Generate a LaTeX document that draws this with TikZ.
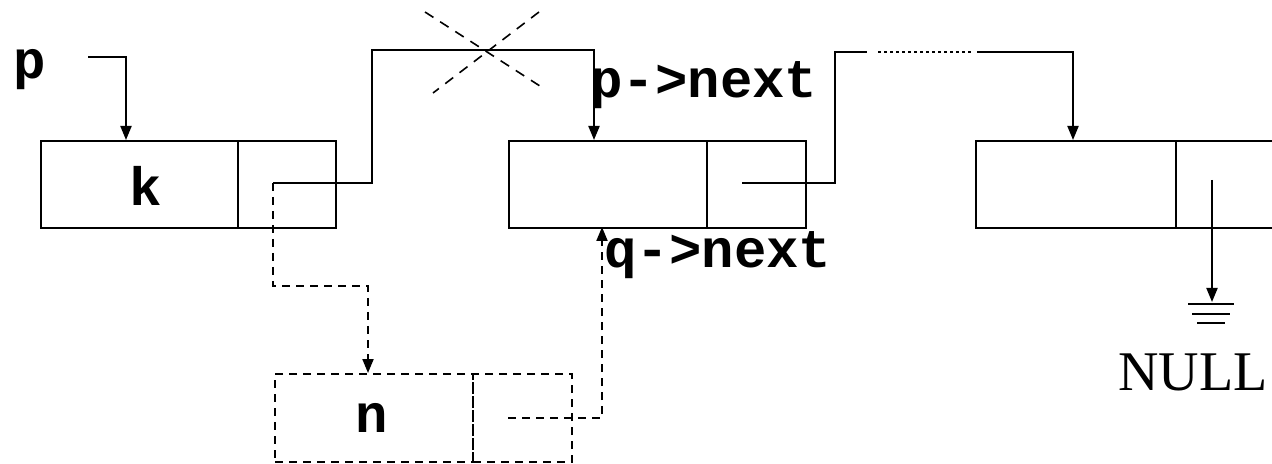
\documentclass[tikz,border=0pt]{standalone}
\usepackage{fontspec}
\setmainfont{Liberation Serif}
\setmonofont{Liberation Mono}
\usetikzlibrary{arrows.meta}
\tikzset{
  cell/.style={draw, rectangle, inner sep=0pt, minimum height=43.5pt, anchor=north west, line width=1pt, font=\fontsize{27}{27}\selectfont\ttfamily\bfseries},
  dcell/.style={cell, dash pattern=on 4pt off 3pt},
  ptr/.style={line width=1pt, -{Triangle[length=7pt,width=5.5pt]}},
  dptr/.style={ptr, dash pattern=on 4pt off 3pt},
  lbl/.style={inner sep=0pt, font=\fontsize{27}{27}\selectfont\ttfamily\bfseries},
}
\begin{document}
\begin{tikzpicture}[x=0.5pt, y=-0.5pt]
\useasboundingbox (0,0) rectangle (1272,464);
% boxes
\node[cell, minimum width=98.5pt] (b1d) at (40,140) {};
\node[cell, minimum width=49pt] (b1p) at (237,140) {};
\node[cell, minimum width=99pt] (b2d) at (508,140) {};
\node[cell, minimum width=49.5pt] (b2p) at (706,140) {};
\node[cell, minimum width=100pt] (b3d) at (975,140) {};
\node[cell, minimum width=55pt] (b3p) at (1175,140) {};
\node[dcell, minimum width=99pt, minimum height=44pt] (nbd) at (274,373) {};
\node[dcell, minimum width=49.5pt, minimum height=44pt] (nbp) at (472,373) {};
\node[lbl] (klab) at (146,186) {k};
\node[lbl] (nlab) at (372,418) {n};
% labels
\node[lbl] (plab) at (30,70) {p};
\node[lbl, anchor=west] (pnext) at (590,85) {p->next};
\node[lbl, anchor=west] (qnext) at (604,255) {q->next};
\node[inner sep=0pt, font=\fontsize{28}{28}\selectfont] (null) at (1193,372) {NULL};
% coordinates
\coordinate (ps) at (88,57);
\coordinate (pa) at (126,140);
\coordinate (c1) at (273,183);
\coordinate (t1) at (372,50);
\coordinate (a2) at (594,140);
\coordinate (c2) at (742,183);
\coordinate (t2) at (835,52);
\coordinate (s2) at (867,52);
\coordinate (u1) at (878,52);
\coordinate (u2) at (972,52);
\coordinate (s3) at (977,52);
\coordinate (a3) at (1073,140);
\coordinate (c3) at (1212,180);
\coordinate (g) at (1212,302);
\coordinate (d1) at (368,286);
\coordinate (na) at (368,373);
\coordinate (c4) at (508,418);
\coordinate (a4) at (602,227);
% pointers
\draw[ptr] (ps) -| (pa);
\draw[ptr] (c1) -| (t1) -| (a2);
\draw[line width=1pt] (c2) -| (t2) -- (s2);
\draw[line width=1pt, dash pattern=on 1.5pt off 1.5pt] (u1) -- (u2);
\draw[ptr] (s3) -| (a3);
\draw[ptr] (c3) -- (g);
\draw[dptr] (c1) |- (d1) -- (na);
\draw[dptr] (c4) -| (a4);
% cross
\draw[line width=0.8pt, dash pattern=on 5pt off 4pt] (425,12) -- (543,88);
\draw[line width=0.8pt, dash pattern=on 5pt off 4pt] (539,12) -- (433,93);
% ground
\draw[line width=1pt] (1188,304) -- (1234,304);
\draw[line width=1pt] (1192,314) -- (1230,314);
\draw[line width=1pt] (1197,323) -- (1225,323);
\end{tikzpicture}
\end{document}
